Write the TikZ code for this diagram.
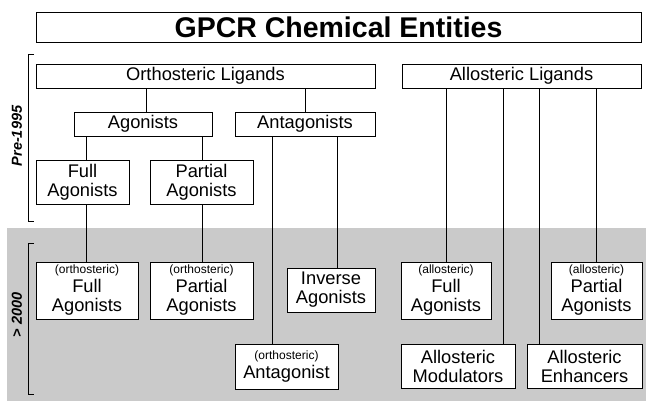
\documentclass[tikz,border=0pt]{standalone}
\usepackage{fontspec}
\setmainfont{Liberation Sans}
\begin{document}
\begin{tikzpicture}[x=1pt,y=-1pt,
  box/.style={draw=black, fill=white, line width=0.9pt, inner sep=0pt, align=center,
    font=\fontsize{18.3}{19}\selectfont},
  conn/.style={draw=black, line width=0.9pt},
  brk/.style={draw=black, line width=0.9pt},
  small/.style={},
  era/.style={font=\fontsize{14.5}{16}\selectfont\bfseries\itshape, rotate=90, inner sep=0pt}]
\useasboundingbox (0,0) rectangle (646,401);
\fill[fill={rgb,255:red,202;green,202;blue,202}] (7,228) rectangle (646,401);
% brackets
\draw[brk] (34,54) -- (28,54) -- (28,221) -- (34,221);
\draw[brk] (34,243) -- (28,243) -- (28,394) -- (34,394);
\node[era] (pre) at (17,136) {Pre-1995};
\node[era] (post) at (17,315) {> 2000};
% title
\node[box, minimum width=605pt, minimum height=30pt, font=\fontsize{28.5}{30}\selectfont\bfseries] (title) at (338.5,27) {GPCR Chemical Entities};
% top level
\node[box, minimum width=339pt, minimum height=24pt] (orth) at (205.5,76) {Orthosteric Ligands};
\node[box, minimum width=239pt, minimum height=24pt] (allo) at (521.5,76) {Allosteric Ligands};
\node[box, minimum width=138pt, minimum height=24pt] (agon) at (143,124) {Agonists};
\node[box, minimum width=140pt, minimum height=24pt] (antag) at (305,124) {Antagonists};
\node[box, minimum width=93pt, minimum height=44pt] (fullA) at (82.5,182) {Full\\Agonists};
\node[box, minimum width=103pt, minimum height=44pt] (partA) at (201.5,182) {Partial\\Agonists};
% post 2000
\node[box, minimum width=102pt, minimum height=57pt] (oFull) at (87,290.5) {{\fontsize{12}{14}\selectfont (orthosteric)}\\Full\\Agonists};
\node[box, minimum width=103pt, minimum height=57pt] (oPart) at (201.5,290.5) {{\fontsize{12}{14}\selectfont (orthosteric)}\\Partial\\Agonists};
\node[box, minimum width=88pt, minimum height=44pt] (inv) at (331,290) {Inverse\\Agonists};
\node[box, minimum width=103pt, minimum height=45pt] (oAnt) at (286.5,366.5) {{\fontsize{12}{14}\selectfont (orthosteric)}\\Antagonist};
\node[box, minimum width=90pt, minimum height=57pt] (aFull) at (446,290.5) {{\fontsize{12}{14}\selectfont (allosteric)}\\Full\\Agonists};
\node[box, minimum width=91pt, minimum height=57pt] (aPart) at (596.5,290.5) {{\fontsize{12}{14}\selectfont (allosteric)}\\Partial\\Agonists};
\node[box, minimum width=114pt, minimum height=44pt] (mod) at (458,366) {Allosteric\\Modulators};
\node[box, minimum width=115pt, minimum height=44pt] (enh) at (584.5,366) {Allosteric\\Enhancers};
% connectors
\draw[conn] (orth.south -| 146,0) -- (agon.north -| 146,0);
\draw[conn] (orth.south -| antag.north) -- (antag.north);
\draw[conn] (agon.south -| 86,0) -- (fullA.north -| 86,0);
\draw[conn] (agon.south -| 202,0) -- (partA.north -| 202,0);
\draw[conn] (fullA.south -| 86,0) -- (oFull.north -| 86,0);
\draw[conn] (partA.south -| 202,0) -- (oPart.north -| 202,0);
\draw[conn] (antag.south -| 272,0) -- (oAnt.north -| 272,0);
\draw[conn] (antag.south -| 337,0) -- (inv.north -| 337,0);
\draw[conn] (allo.south -| 446,0) -- (aFull.north -| 446,0);
\draw[conn] (allo.south -| 503,0) -- (mod.north -| 503,0);
\draw[conn] (allo.south -| 539,0) -- (enh.north -| 539,0);
\draw[conn] (allo.south -| 596,0) -- (aPart.north -| 596,0);
\end{tikzpicture}
\end{document}
